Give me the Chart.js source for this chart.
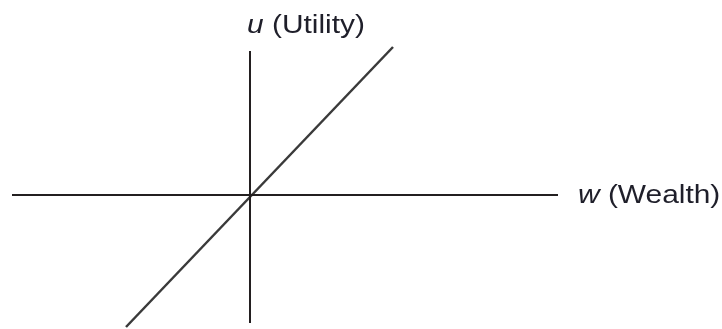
<!DOCTYPE html>
<html>
<head>
<meta charset="utf-8">
<script src="https://cdn.jsdelivr.net/npm/chart.js@4"></script>
<style>
  html, body { margin: 0; padding: 0; background: #fff; }
  #wrap { width: 722px; height: 329px; position: relative; }
</style>
</head>
<body>
<div id="wrap"><canvas id="grafico"></canvas></div>
<script>
// eixos e reta de utilidade (unidades do gráfico, origem no cruzamento)
const eixoW = [{ x: -4.76, y: 0 }, { x: 6.16, y: 0 }];
const eixoU = [{ x: 0, y: 2.88 }, { x: 0, y: -2.56 }];
const utilidade = [{ x: -2.48, y: -2.64 }, { x: 2.86, y: 2.96 }];

// rótulos: [letra em itálico, resto, x, y]
const rotulos = [
    ["u", " (Utility)", -0.06, 3.38],
    ["w", " (Wealth)", 6.56, -0.02]
];

const limitesX = [-5, 9.44];
const limitesY = [-2.68, 3.9];

const pluginRotulos = {
    id: "rotulos",
    afterDatasetsDraw(chart) {
        const ctx = chart.ctx;
        const sx = chart.scales.x;
        const sy = chart.scales.y;
        for (let r of rotulos) {
            const px = sx.getPixelForValue(r[2]);
            const py = sy.getPixelForValue(r[3]);
            ctx.save();
            ctx.translate(px, py);
            ctx.scale(1.15, 1);
            ctx.fillStyle = "#1f1f2a";
            ctx.textBaseline = "middle";
            ctx.textAlign = "left";
            ctx.font = "italic 26px 'Liberation Sans', Arial, sans-serif";
            ctx.fillText(r[0], 0, 0);
            const w = ctx.measureText(r[0]).width;
            ctx.font = "26px 'Liberation Sans', Arial, sans-serif";
            ctx.fillText(r[1], w, 0);
            ctx.restore();
        }
    }
};

function linha(dados, cor, largura) {
    return {
        data: dados,
        showLine: true,
        borderColor: cor,
        borderWidth: largura,
        pointRadius: 0,
        fill: false
    };
}

new Chart(document.getElementById("grafico"), {
    type: "scatter",
    data: {
        datasets: [
            linha(eixoW, "#231f20", 2),
            linha(eixoU, "#231f20", 2),
            linha(utilidade, "#3a3a3a", 2.5)
        ]
    },
    options: {
        responsive: true,
        maintainAspectRatio: false,
        animation: false,
        layout: { padding: 0 },
        plugins: {
            legend: { display: false },
            tooltip: { enabled: false }
        },
        scales: {
            x: { type: "linear", display: false, min: limitesX[0], max: limitesX[1] },
            y: { type: "linear", display: false, min: limitesY[0], max: limitesY[1] }
        }
    },
    plugins: [pluginRotulos]
});
</script>
</body>
</html>
